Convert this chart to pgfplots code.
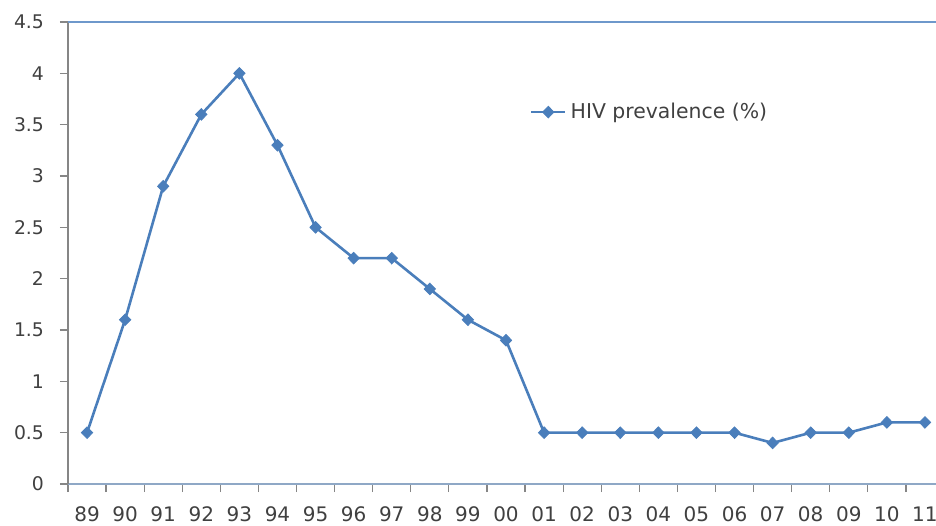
\documentclass[border=0pt]{standalone}
\usepackage{pgfplots}
\pgfplotsset{compat=1.18}
\usepackage{fontspec}
\setmainfont{DejaVu Sans}
\definecolor{serieblue}{HTML}{4A7EBB}
\definecolor{topblue}{HTML}{6E98CB}
\definecolor{axgrey}{HTML}{868686}
\definecolor{botaxis}{HTML}{8FA8C6}
\definecolor{txt}{HTML}{404040}
\begin{document}
\begin{tikzpicture}
\path[use as bounding box] (0pt,0pt) rectangle (468pt,262.5pt);
\clip (0pt,0pt) rectangle (468pt,262.5pt);
\begin{axis}[
  at={(34pt,20.5pt)}, anchor=south west,
  scale only axis,
  width=438pt, height=231pt,
  xmin=-0.5, xmax=22.5, ymin=0, ymax=4.5,
  axis x line*=bottom, axis y line*=left,
  x axis line style={draw=botaxis, line width=1pt, -},
  y axis line style={draw=axgrey, line width=0.7pt, -},
  xtick={-0.5,0.5,...,22.5},
  xticklabels={89,90,91,92,93,94,95,96,97,98,99,00,01,02,03,04,05,06,07,08,09,10,11,{}},
  xticklabel style={xshift=9.52pt, yshift=-4pt, font=\fontsize{10}{12}\selectfont, text=txt},
  ytick={0,0.5,...,4.5},
  yticklabels={0,0.5,1,1.5,2,2.5,3,3.5,4,4.5},
  yticklabel style={xshift=-4.5pt, font=\fontsize{9.4}{11}\selectfont, text=txt},
  tick align=outside,
  major tick length=4pt,
  tick style={draw=axgrey, line width=0.6pt},
  /pgf/number format/assume math mode=true,
  legend style={draw=none, fill=none, at={(0.52,0.805)}, anchor=west,
    font=\fontsize{10.2}{12}\selectfont, text=txt},
  legend cell align=left,
  clip=false,
]
\draw[topblue, line width=1.1pt] (axis cs:-0.5,4.5) -- (axis cs:22.5,4.5);
\addplot[serieblue, line width=1.3pt, mark=diamond*, mark size=2.9pt,
  mark options={fill=serieblue, draw=serieblue, line width=0.4pt, xscale=1.3}]
  coordinates {
  (0,0.5) (1,1.6) (2,2.9) (3,3.6) (4,4.0) (5,3.3) (6,2.5) (7,2.2) (8,2.2)
  (9,1.9) (10,1.6) (11,1.4) (12,0.5) (13,0.5) (14,0.5) (15,0.5) (16,0.5)
  (17,0.5) (18,0.4) (19,0.5) (20,0.5) (21,0.6) (22,0.6)};
\addlegendentry{HIV prevalence (\%)}
\end{axis}
\end{tikzpicture}
\end{document}
